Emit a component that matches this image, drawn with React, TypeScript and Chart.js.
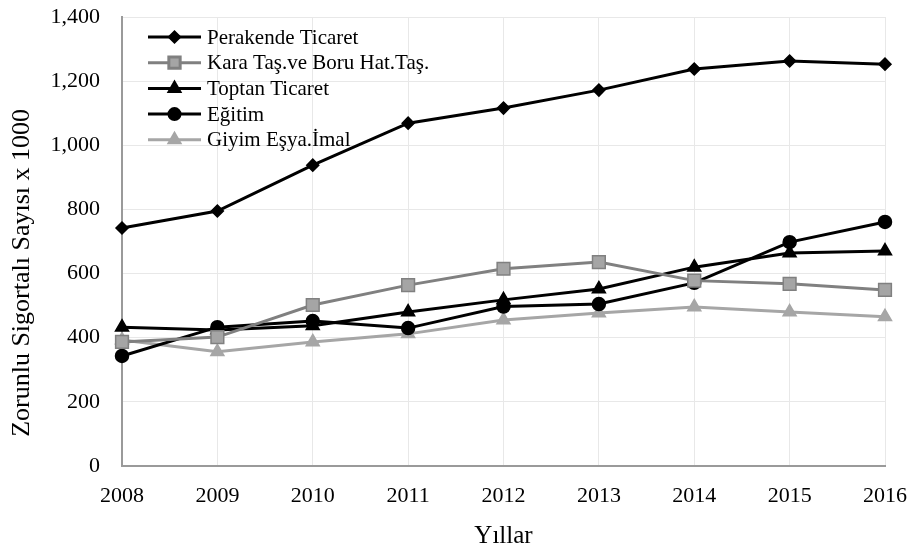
import React, { useEffect, useRef } from 'react';
import { Chart, registerables } from 'chart.js';
import { drawPoint } from 'chart.js/helpers';

Chart.register(...registerables);

const years = ['2008', '2009', '2010', '2011', '2012', '2013', '2014', '2015', '2016'];
const perakende = [742, 795, 938, 1069, 1116, 1172, 1238, 1263, 1253];
const karaTas = [387, 402, 502, 564, 615, 636, 578, 568, 549];
const toptan = [433, 424, 437, 480, 518, 552, 620, 664, 670];
const egitim = [343, 433, 452, 430, 497, 505, 571, 698, 761];
const giyim = [393, 356, 387, 412, 455, 477, 496, 480, 465];

const seriesNames = ['Perakende Ticaret', 'Kara Taş.ve Boru Hat.Taş.', 'Toptan Ticaret', 'Eğitim', 'Giyim Eşya.İmal'];
const yTicks = [0, 200, 400, 600, 800, 1000, 1200, 1400];
const yTitle = 'Zorunlu Sigortalı Sayısı x 1000';

const FONT = 'Liberation Serif';

const legendPlugin = {
  id: 'inlineLegend',
  afterDatasetsDraw(chart: any) {
    const ctx = chart.ctx;
    const area = chart.chartArea;
    const x0 = area.left + 26;
    const x1 = area.left + 79;
    const tx = area.left + 85;
    const y0 = area.top + 20;
    const step = 25.7;
    chart.data.datasets.forEach((ds: any, i: number) => {
      const y = y0 + i * step;
      ctx.save();
      ctx.strokeStyle = ds.borderColor;
      ctx.lineWidth = ds.borderWidth;
      ctx.beginPath();
      ctx.moveTo(x0, y);
      ctx.lineTo(x1, y);
      ctx.stroke();
      ctx.fillStyle = ds.pointBackgroundColor;
      ctx.strokeStyle = ds.pointBorderColor;
      drawPoint(ctx, {
        pointStyle: ds.pointStyle,
        radius: ds.legendRadius,
        rotation: 0,
        borderWidth: ds.pointBorderWidth,
      } as any, (x0 + x1) / 2, y);
      ctx.fillStyle = '#000';
      ctx.font = `21px "${FONT}"`;
      ctx.textBaseline = 'middle';
      ctx.textAlign = 'left';
      ctx.fillText(ds.label, tx, y + 1);
      ctx.restore();
    });
    ctx.save();
    ctx.translate(22, area.top + (area.bottom - area.top) * 0.57);
    ctx.rotate(-Math.PI / 2);
    ctx.fillStyle = '#000';
    ctx.font = `26px "${FONT}"`;
    ctx.textAlign = 'center';
    ctx.textBaseline = 'middle';
    ctx.fillText(yTitle, 0, 0);
    ctx.restore();
  },
};

export default function App() {
  const ref = useRef<HTMLCanvasElement | null>(null);

  useEffect(() => {
    document.body.style.margin = '0';
    const canvas = ref.current;
    if (!canvas) return;
    const mk = (label: string, data: number[], color: string, style: string, radius: number, fill: string, border: string, legendRadius: number) => ({
      label,
      data,
      borderColor: color,
      backgroundColor: color,
      borderWidth: 3,
      pointStyle: style,
      pointRadius: radius,
      pointHoverRadius: radius,
      pointBackgroundColor: fill,
      pointBorderColor: border,
      pointBorderWidth: 1.5,
      legendRadius,
      tension: 0,
      fill: false,
    });
    const chart = new Chart(canvas, {
      type: 'line',
      data: {
        labels: years,
        datasets: [
          mk(seriesNames[0], perakende, '#000000', 'rectRot', 6, '#000000', '#000000', 5),
          mk(seriesNames[1], karaTas, '#808080', 'rect', 9, '#a5a5a5', '#808080', 8),
          mk(seriesNames[2], toptan, '#000000', 'triangle', 7.5, '#000000', '#000000', 6),
          mk(seriesNames[3], egitim, '#000000', 'circle', 6.5, '#000000', '#000000', 5.5),
          mk(seriesNames[4], giyim, '#a6a6a6', 'triangle', 7.5, '#a6a6a6', '#a6a6a6', 6),
        ] as any,
      },
      options: {
        animation: false,
        responsive: false,
        maintainAspectRatio: false,
        layout: { padding: { left: 0, right: 29, top: 17, bottom: 0 } },
        plugins: {
          legend: { display: false },
          tooltip: { enabled: false },
        },
        scales: {
          x: {
            type: 'category',
            offset: false,
            afterFit: (s: any) => { s.height = 85; s.paddingLeft = 0; s.paddingRight = 0; },
            grid: { color: '#e8e8e8', drawTicks: false, lineWidth: 1 },
            border: { color: '#9a9a9a', width: 2 },
            ticks: {
              color: '#000',
              font: { family: FONT, size: 22 },
              padding: 17,
              maxRotation: 0,
              autoSkip: false,
            },
            title: {
              display: true,
              text: 'Yıllar',
              color: '#000',
              font: { family: FONT, size: 25 },
              padding: { top: 0, bottom: 0 },
            },
          },
          y: {
            min: 0,
            max: 1400,
            afterFit: (s: any) => { s.width = 122; s.paddingTop = 0; s.paddingBottom = 0; },
            afterBuildTicks: (s: any) => { s.ticks = yTicks.map((v) => ({ value: v })); },
            grid: { color: '#e8e8e8', drawTicks: false, lineWidth: 1 },
            border: { color: '#9a9a9a', width: 2 },
            ticks: {
              color: '#000',
              font: { family: FONT, size: 22 },
              padding: 22,
              callback: (v: any) => Number(v).toLocaleString('en-US'),
            },
            title: { display: false },
          },
        },
      },
      plugins: [legendPlugin],
    } as any);
    return () => chart.destroy();
  }, []);

  return (
    <div style={{ position: 'absolute', left: 0, top: 0, width: 914, height: 551, background: '#fff' }}>
      <canvas ref={ref} width={914} height={551} style={{ width: 914, height: 551 }} />
    </div>
  );
}
